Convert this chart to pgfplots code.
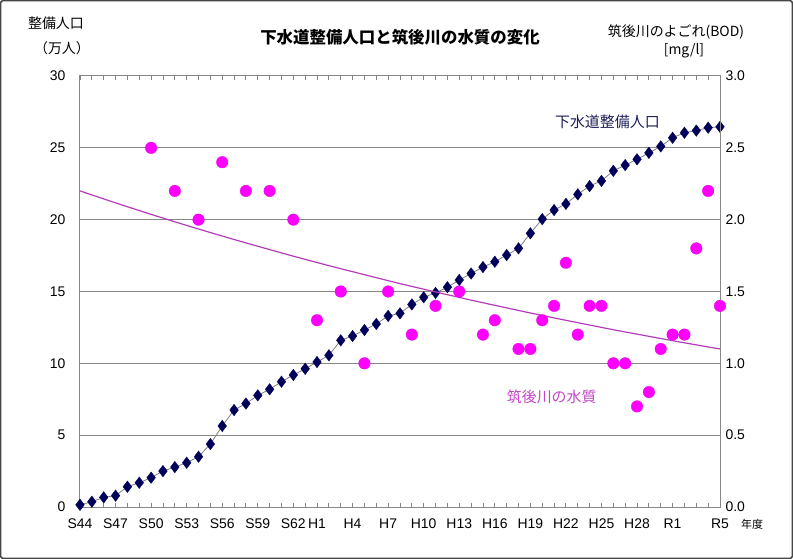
\documentclass[border=0pt]{standalone}
\usepackage{fontspec}
\setmainfont{Liberation Sans}
\newfontfamily\jp{Noto Sans CJK JP}
\usepackage{pgfplots}
\pgfplotsset{compat=1.18}
\definecolor{navy}{RGB}{0,0,90}
\definecolor{navytext}{RGB}{30,30,90}
\definecolor{gridgray}{RGB}{135,135,135}
\definecolor{dotmag}{RGB}{255,0,255}
\definecolor{trendc}{RGB}{180,60,185}
\definecolor{bodtext}{RGB}{195,70,200}
\definecolor{framec}{RGB}{70,70,70}
\begin{document}
\begin{tikzpicture}
\begin{axis}[
  scale only axis, width=640bp, height=431bp,
  xmin=1969, xmax=2023, ymin=0, ymax=30,
  axis line style={gridgray, line width=1bp},
  ytick={0,5,...,30},
  ymajorgrids, major grid style={gridgray, line width=1bp},
  ytick style={draw=none},
  xtick={1969,1972,1975,1978,1981,1984,1987,1989,1992,1995,1998,2001,2004,2007,2010,2013,2016,2019,2023},
  xticklabels={S44,S47,S50,S53,S56,S59,S62,H1,H4,H7,H10,H13,H16,H19,H22,H25,H28,R1,R5},
  minor xtick={1969,1970,...,2023},
  tick align=inside,
  major tick length=0pt, minor tick length=4.5bp,
  minor x tick style={gridgray, line width=0.9bp},
  ticklabel style={font=\fontsize{14}{15}\selectfont},
  xticklabel style={yshift=-8bp},
  yticklabel style={xshift=-11bp},
  /pgf/number format/assume math mode=true,
  clip=false,
]
\addplot[gray, line width=0.8bp, mark=diamond*, mark size=5.8bp, mark options={fill=navy, draw=navy, line width=0.3bp}] coordinates {
(1969,0.15) (1970,0.37) (1971,0.67) (1972,0.79) (1973,1.41) (1974,1.69)
(1975,2.04) (1976,2.50) (1977,2.78) (1978,3.08) (1979,3.50) (1980,4.38)
(1981,5.64) (1982,6.75) (1983,7.20) (1984,7.77) (1985,8.19) (1986,8.72)
(1987,9.19) (1988,9.62) (1989,10.09) (1990,10.56) (1991,11.60) (1992,11.90)
(1993,12.32) (1994,12.74) (1995,13.30) (1996,13.48) (1997,14.10) (1998,14.60)
(1999,14.90) (2000,15.30) (2001,15.80) (2002,16.25) (2003,16.70) (2004,17.07)
(2005,17.54) (2006,18.00) (2007,19.05) (2008,20.04) (2009,20.67) (2010,21.10)
(2011,21.76) (2012,22.34) (2013,22.70) (2014,23.40) (2015,23.80) (2016,24.20)
(2017,24.65) (2018,25.10) (2019,25.70) (2020,26.05) (2021,26.20) (2022,26.40)
(2023,26.46)};
\node[font=\jp\fontsize{15}{16}\selectfont, text=navytext] at (axis cs:2013.5,26.8) {下水道整備人口};
\node[font=\jp\fontsize{15}{16}\selectfont, text=bodtext] at (axis cs:2008.8,7.65) {筑後川の水質};
\end{axis}
\begin{axis}[
  scale only axis, width=640bp, height=431bp,
  xmin=1969, xmax=2023, ymin=0, ymax=3,
  axis x line=none,
  axis y line*=right,
  axis line style={gridgray, line width=1bp},
  ytick={0,0.5,...,3.0},
  ytick style={draw=none},
  ticklabel style={font=\fontsize{14}{15}\selectfont},
  yticklabel style={xshift=2bp, /pgf/number format/fixed, /pgf/number format/fixed zerofill, /pgf/number format/precision=1},
  /pgf/number format/assume math mode=true,
  clip=false,
]
\addplot[trendc, line width=1.2bp, smooth] coordinates {
(1969,2.200) (1972,2.117) (1975,2.037) (1978,1.960) (1981,1.886) (1984,1.815)
(1987,1.746) (1990,1.680) (1993,1.617) (1996,1.555) (1999,1.497) (2002,1.440)
(2005,1.386) (2008,1.333) (2011,1.283) (2014,1.234) (2017,1.188) (2020,1.143)
(2023,1.100)};
\addplot[only marks, mark=*, mark size=5.8bp, mark options={fill=dotmag, draw=dotmag!90!black, line width=0.3bp}] coordinates {
(1975,2.5) (1977,2.2) (1979,2.0) (1981,2.4) (1983,2.2) (1985,2.2) (1987,2.0)
(1989,1.3) (1991,1.5) (1993,1.0) (1995,1.5) (1997,1.2) (1999,1.4) (2001,1.5)
(2003,1.2) (2004,1.3) (2006,1.1) (2007,1.1) (2008,1.3) (2009,1.4) (2010,1.7)
(2011,1.2) (2012,1.4) (2013,1.4) (2014,1.0) (2015,1.0) (2016,0.7) (2017,0.8)
(2018,1.1) (2019,1.2) (2020,1.2) (2021,1.8) (2022,2.2) (2023,1.4)};
\end{axis}
\node[font=\jp\bfseries\fontsize{16.5}{17}\selectfont] at (320bp,470bp) {下水道整備人口と筑後川の水質の変化};
\node[font=\jp\fontsize{14}{15}\selectfont] at (-24bp,484bp) {整備人口};
\node[font=\jp\fontsize{14}{15}\selectfont] at (-18bp,459bp) {（万人）};
\node[font=\jp\fontsize{14}{15}\selectfont] at (596bp,475bp) {筑後川のよごれ(BOD)};
\node[font=\jp\fontsize{14}{15}\selectfont] at (604bp,456bp) {[mg/l]};
\node[font=\jp\fontsize{11}{12}\selectfont] at (672bp,-17bp) {年度};
\draw[framec, line width=1.5bp, rounded corners=2bp] (-79.25bp,-51.25bp) rectangle (712.25bp,506.25bp);
\pgfresetboundingbox
\useasboundingbox (-80bp,-52bp) rectangle (713bp,507bp);
\end{tikzpicture}
\end{document}
